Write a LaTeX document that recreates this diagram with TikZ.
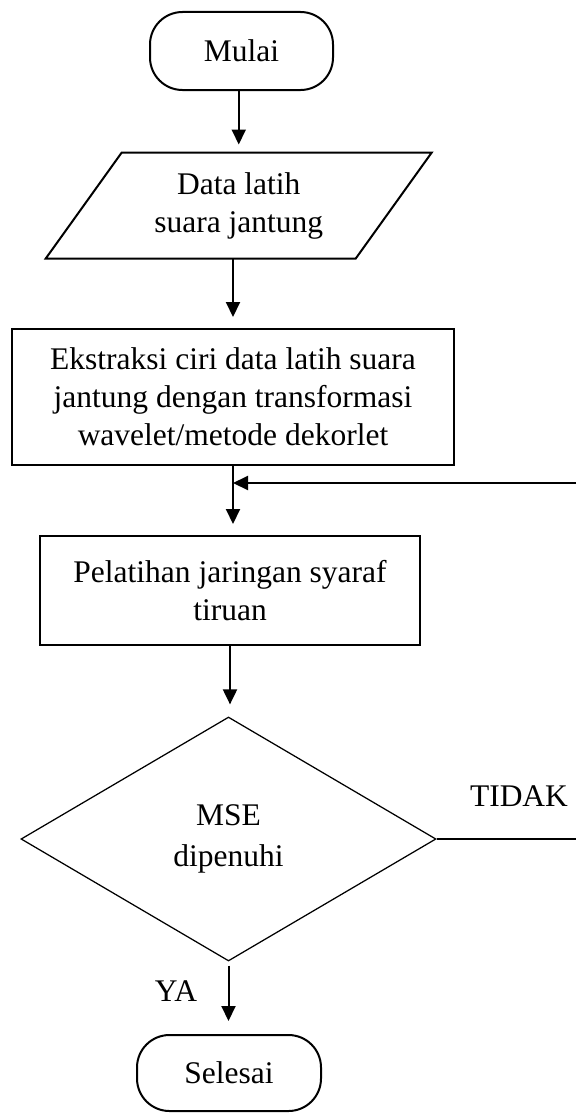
\documentclass[tikz,border=0pt]{standalone}
\usepackage{fontspec}
\setmainfont{Liberation Serif}
\usetikzlibrary{shapes.geometric,arrows.meta}
\begin{document}
\begin{tikzpicture}[x=0.4pt, y=-0.4pt, >={Triangle[length=6pt,width=5.6pt]},
  font=\fontsize{12.6pt}{15.2pt}\selectfont,
  box/.style={draw, line width=0.8pt, align=center, inner sep=0pt},
  term/.style={box, rounded corners=13pt, minimum width=73.2pt, minimum height=31.2pt},
  arr/.style={->, line width=0.8pt}]
\useasboundingbox (0,0) rectangle (576,1113);

\node[term] (mulai) at (241.5,51) {Mulai};
\node[align=center, inner sep=0pt, minimum width=123.6pt, minimum height=42pt] (data) at (238.75,205.5) {Data latih\\suara jantung};
\draw[line width=0.8pt] ([xshift=15.2pt]data.north west) -- ([xshift=15.2pt]data.north east)
  -- ([xshift=-15.2pt]data.south east) -- ([xshift=-15.2pt]data.south west) -- cycle;
\node[box, minimum width=176.8pt, minimum height=54.4pt] (ekstraksi) at (233,397)
  {Ekstraksi ciri data latih suara\\jantung dengan transformasi\\wavelet/metode dekorlet};
\node[box, minimum width=152pt, minimum height=43.6pt] (latih) at (230,590.5)
  {Pelatihan jaringan syaraf\\tiruan};
\node[diamond, draw, line width=0.5pt, align=center, inner sep=0pt, minimum width=166pt, minimum height=97.6pt,
  font=\fontsize{12.6pt}{16.4pt}\selectfont] (mse) at (228.5,839) {MSE\\dipenuhi};
\node[term, minimum width=73.6pt, minimum height=30.4pt] (selesai) at (229,1073) {Selesai};

\draw[arr, shorten >=3.2pt] (data.north |- mulai.south) -- (data.north);
\draw[arr, shorten >=4.4pt] (ekstraksi.north |- data.south) -- (ekstraksi.north);
\draw[arr, shorten >=4.4pt] (ekstraksi.south) -- (ekstraksi.south |- latih.north);
\coordinate (back) at (576,483);
\draw[arr] (back) -- (back -| ekstraksi.south);
\draw[arr, shorten >=4.8pt] (latih.south) -- (latih.south |- mse.north);
\draw[arr, shorten <=1.6pt, shorten >=5.2pt] (mse.south) -- (mse.south |- selesai.north);
\coordinate (tidakend) at (576,839);
\draw[line width=0.5pt] (mse.east) -- (tidakend);
\node (tidak) at (519,796) {TIDAK};
\node (ya) at (176,991) {YA};
\end{tikzpicture}
\end{document}
